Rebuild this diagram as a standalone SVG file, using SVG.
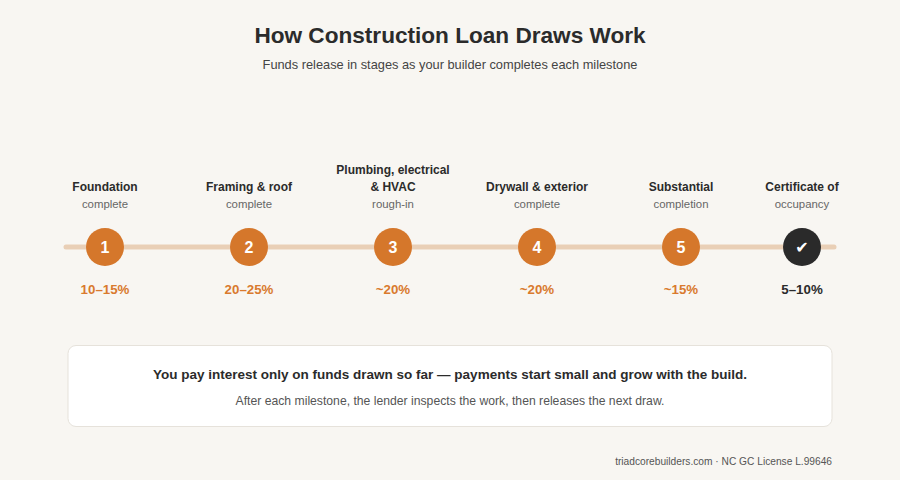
<svg xmlns="http://www.w3.org/2000/svg" width="900" height="480" viewBox="0 0 900 480">
<style>
text{font-family:"Liberation Sans",Arial,sans-serif;text-anchor:middle}
.title{font-size:22.6px;font-weight:bold;fill:#2b2b2b}
.sub{font-size:12.8px;fill:#444}
.lbl{font-size:12px;font-weight:bold;fill:#2b2b2b}
.lsub{font-size:11.4px;fill:#666}
.pct{font-size:13.3px;font-weight:bold;fill:#d97a2e}
.num{font-size:16px;font-weight:bold;fill:#fff}
.dot{fill:#d5772b}
</style>
<rect width="900" height="480" fill="#f8f6f2"/>
<text class="title" x="450" y="43">How Construction Loan Draws Work</text>
<text class="sub" x="450" y="69">Funds release in stages as your builder completes each milestone</text>
<g id="connectors">
<line x1="66" y1="247" x2="834" y2="247" stroke="#e9cfb6" stroke-width="5" stroke-linecap="round"/>
</g>
<g id="n1">
<text class="lbl" x="105" y="191">Foundation</text>
<text class="lsub" x="105" y="208">complete</text>
<circle class="dot" cx="105" cy="247" r="19"/>
<text class="num" x="105" y="253">1</text>
<text class="pct" x="105" y="294">10–15%</text>
</g>
<g id="n2">
<text class="lbl" x="249" y="191">Framing &amp; roof</text>
<text class="lsub" x="249" y="208">complete</text>
<circle class="dot" cx="249" cy="247" r="19"/>
<text class="num" x="249" y="253">2</text>
<text class="pct" x="249" y="294">20–25%</text>
</g>
<g id="n3">
<text class="lbl" x="393" y="174">Plumbing, electrical</text>
<text class="lbl" x="393" y="191">&amp; HVAC</text>
<text class="lsub" x="393" y="208">rough-in</text>
<circle class="dot" cx="393" cy="247" r="19"/>
<text class="num" x="393" y="253">3</text>
<text class="pct" x="393" y="294">~20%</text>
</g>
<g id="n4">
<text class="lbl" x="537" y="191">Drywall &amp; exterior</text>
<text class="lsub" x="537" y="208">complete</text>
<circle class="dot" cx="537" cy="247" r="19"/>
<text class="num" x="537" y="253">4</text>
<text class="pct" x="537" y="294">~20%</text>
</g>
<g id="n5">
<text class="lbl" x="681" y="191">Substantial</text>
<text class="lsub" x="681" y="208">completion</text>
<circle class="dot" cx="681" cy="247" r="19"/>
<text class="num" x="681" y="253">5</text>
<text class="pct" x="681" y="294">~15%</text>
</g>
<g id="n6">
<text class="lbl" x="802" y="191">Certificate of</text>
<text class="lsub" x="802" y="208">occupancy</text>
<circle cx="802" cy="247" r="19" fill="#2a2a2a"/>
<text class="num" x="802" y="253" style="font-family:'DejaVu Sans',sans-serif;font-size:16px">✔</text>
<text class="pct" x="802" y="294" style="fill:#2b2b2b">5–10%</text>
</g>
<g id="note">
<rect x="68" y="345.5" width="764" height="81" rx="8" fill="#fff" stroke="#e6e2db"/>
<text x="450" y="379" style="font-size:13.5px;font-weight:bold;fill:#2b2b2b">You pay interest only on funds drawn so far — payments start small and grow with the build.</text>
<text x="450" y="405" style="font-size:12.2px;fill:#555">After each milestone, the lender inspects the work, then releases the next draw.</text>
</g>
<text x="832" y="465" style="font-size:10.2px;fill:#555;text-anchor:end">triadcorebuilders.com · NC GC License L.99646</text>
</svg>
